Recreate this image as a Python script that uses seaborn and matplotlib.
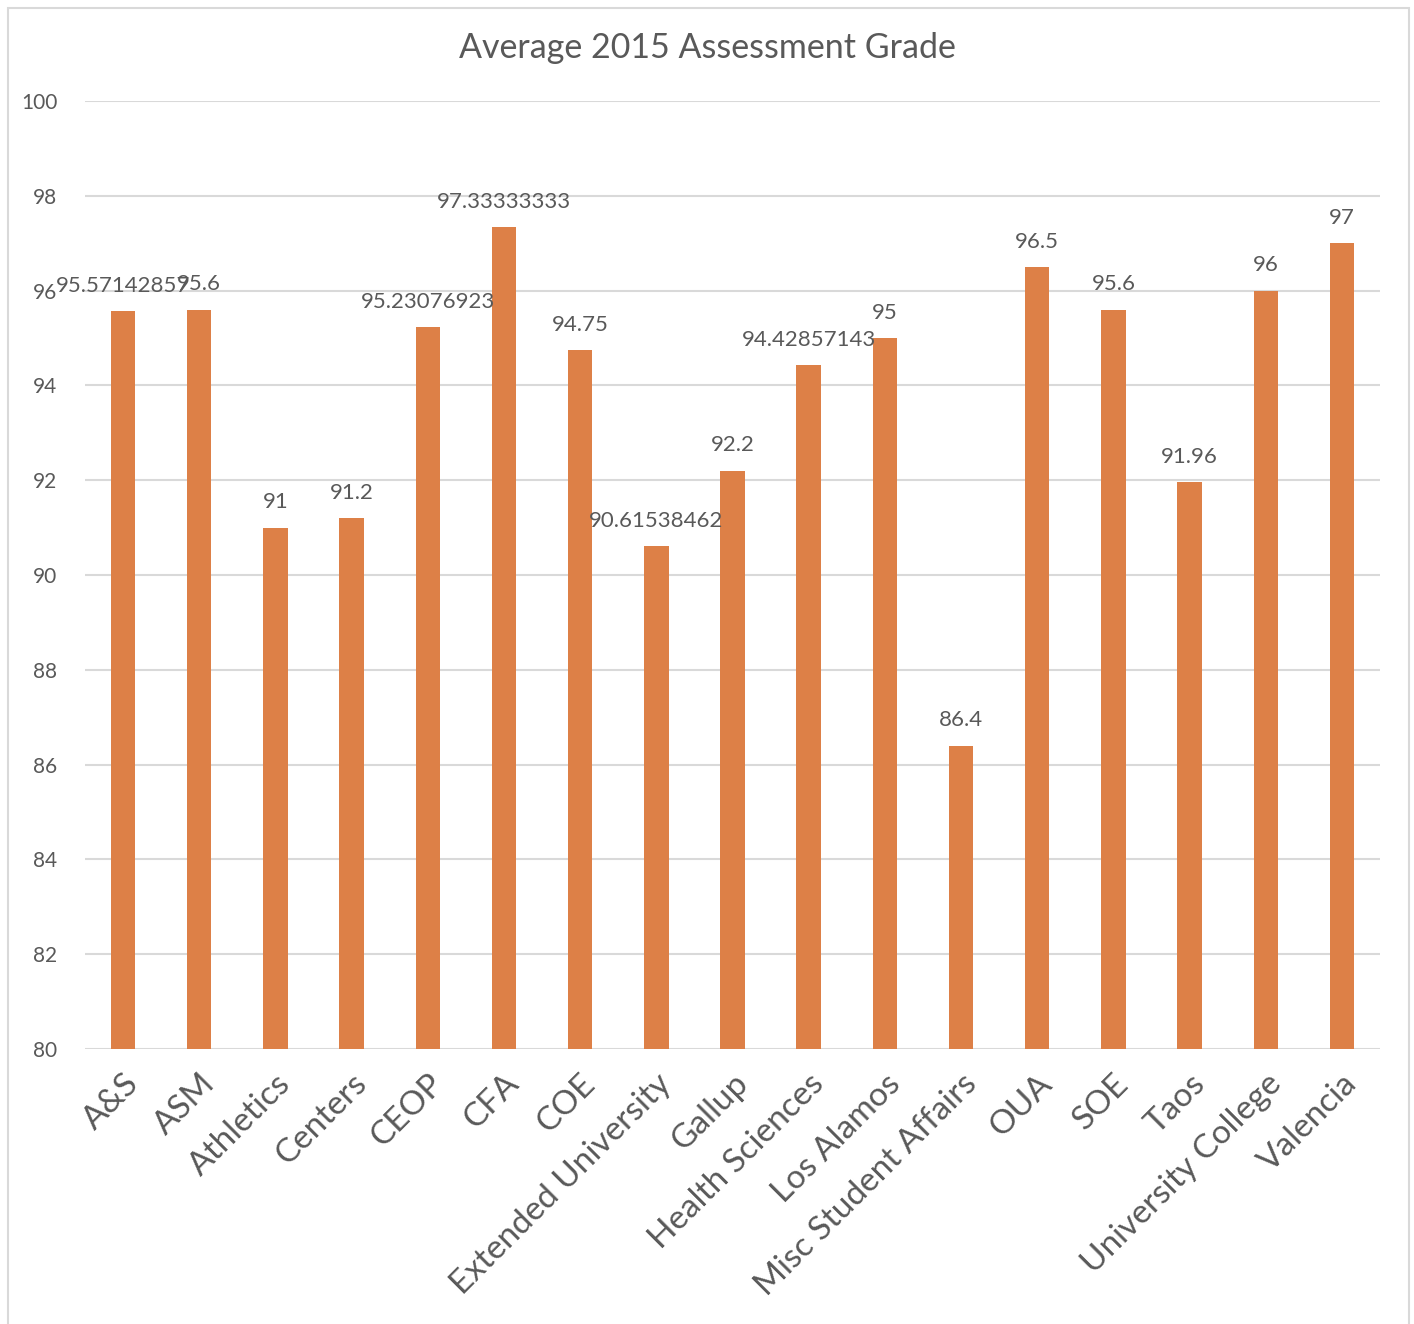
import matplotlib
matplotlib.use("Agg")
import matplotlib.pyplot as plt
import seaborn as sns
import pandas as pd
from matplotlib.patches import Rectangle

categories = ["A&S", "ASM", "Athletics", "Centers", "CEOP", "CFA", "COE",
              "Extended University", "Gallup", "Health Sciences", "Los Alamos",
              "Misc Student Affairs", "OUA", "SOE", "Taos", "University College",
              "Valencia"]
values = [95.57142857, 95.6, 91, 91.2, 95.23076923, 97.33333333, 94.75,
          90.61538462, 92.2, 94.42857143, 95, 86.4, 96.5, 95.6, 91.96, 96, 97]
labels = ["95.57142857", "95.6", "91", "91.2", "95.23076923", "97.33333333", "94.75",
          "90.61538462", "92.2", "94.42857143", "95", "86.4", "96.5", "95.6", "91.96",
          "96", "97"]
title = "Average 2015 Assessment Grade"
yticks = [80, 82, 84, 86, 88, 90, 92, 94, 96, 98, 100]

sns.set_theme(style="white")
plt.rcParams['font.family'] = ['Lato', 'DejaVu Sans']
text_color = "#595959"
bar_color = "#DD8047"

df = pd.DataFrame({"cat": categories, "val": values})

fig = plt.figure(figsize=(14.14, 13.24), dpi=100)
W, H = 1414, 1324
ax = fig.add_axes([85 / W, 1 - 1049 / H, (1380 - 85) / W, (1049 - 101) / H])

sns.barplot(data=df, x="cat", y="val", color=bar_color, width=0.32,
            saturation=1, ax=ax, zorder=3)
for p in ax.patches:
    p.set_edgecolor("none")

ax.set_ylim(80, 100)
ax.set_yticks(yticks)
ax.set_xlim(-0.5, len(categories) - 0.5)
ax.set_xlabel("")
ax.set_ylabel("")
ax.grid(axis="y", color="#D9D9D9", linewidth=1.5, zorder=0)
ax.set_axisbelow(True)
for s in ax.spines.values():
    s.set_visible(False)
ax.tick_params(axis="y", length=0, pad=20, labelsize=15, labelcolor=text_color)
ax.tick_params(axis="x", length=0, pad=14, labelsize=24, labelcolor=text_color)
plt.setp(ax.get_xticklabels(), rotation=45, ha="right", rotation_mode="anchor")

for i, (v, lab) in enumerate(zip(values, labels)):
    ax.annotate(lab, (i, v), xytext=(0, 11), textcoords="offset points",
                ha="center", va="bottom", fontsize=16, color=text_color, zorder=5)

fig.text(0.5, 1 - 48 / H, title, ha="center", va="center", fontsize=24.5,
         color=text_color)

fig.patches.append(Rectangle((8 / W, -0.01), (1409 - 8) / W, 1 - 8 / H + 0.01,
                             transform=fig.transFigure, fill=False,
                             edgecolor="#D9D9D9", linewidth=1.5))

fig.savefig("out.png", dpi=100)
